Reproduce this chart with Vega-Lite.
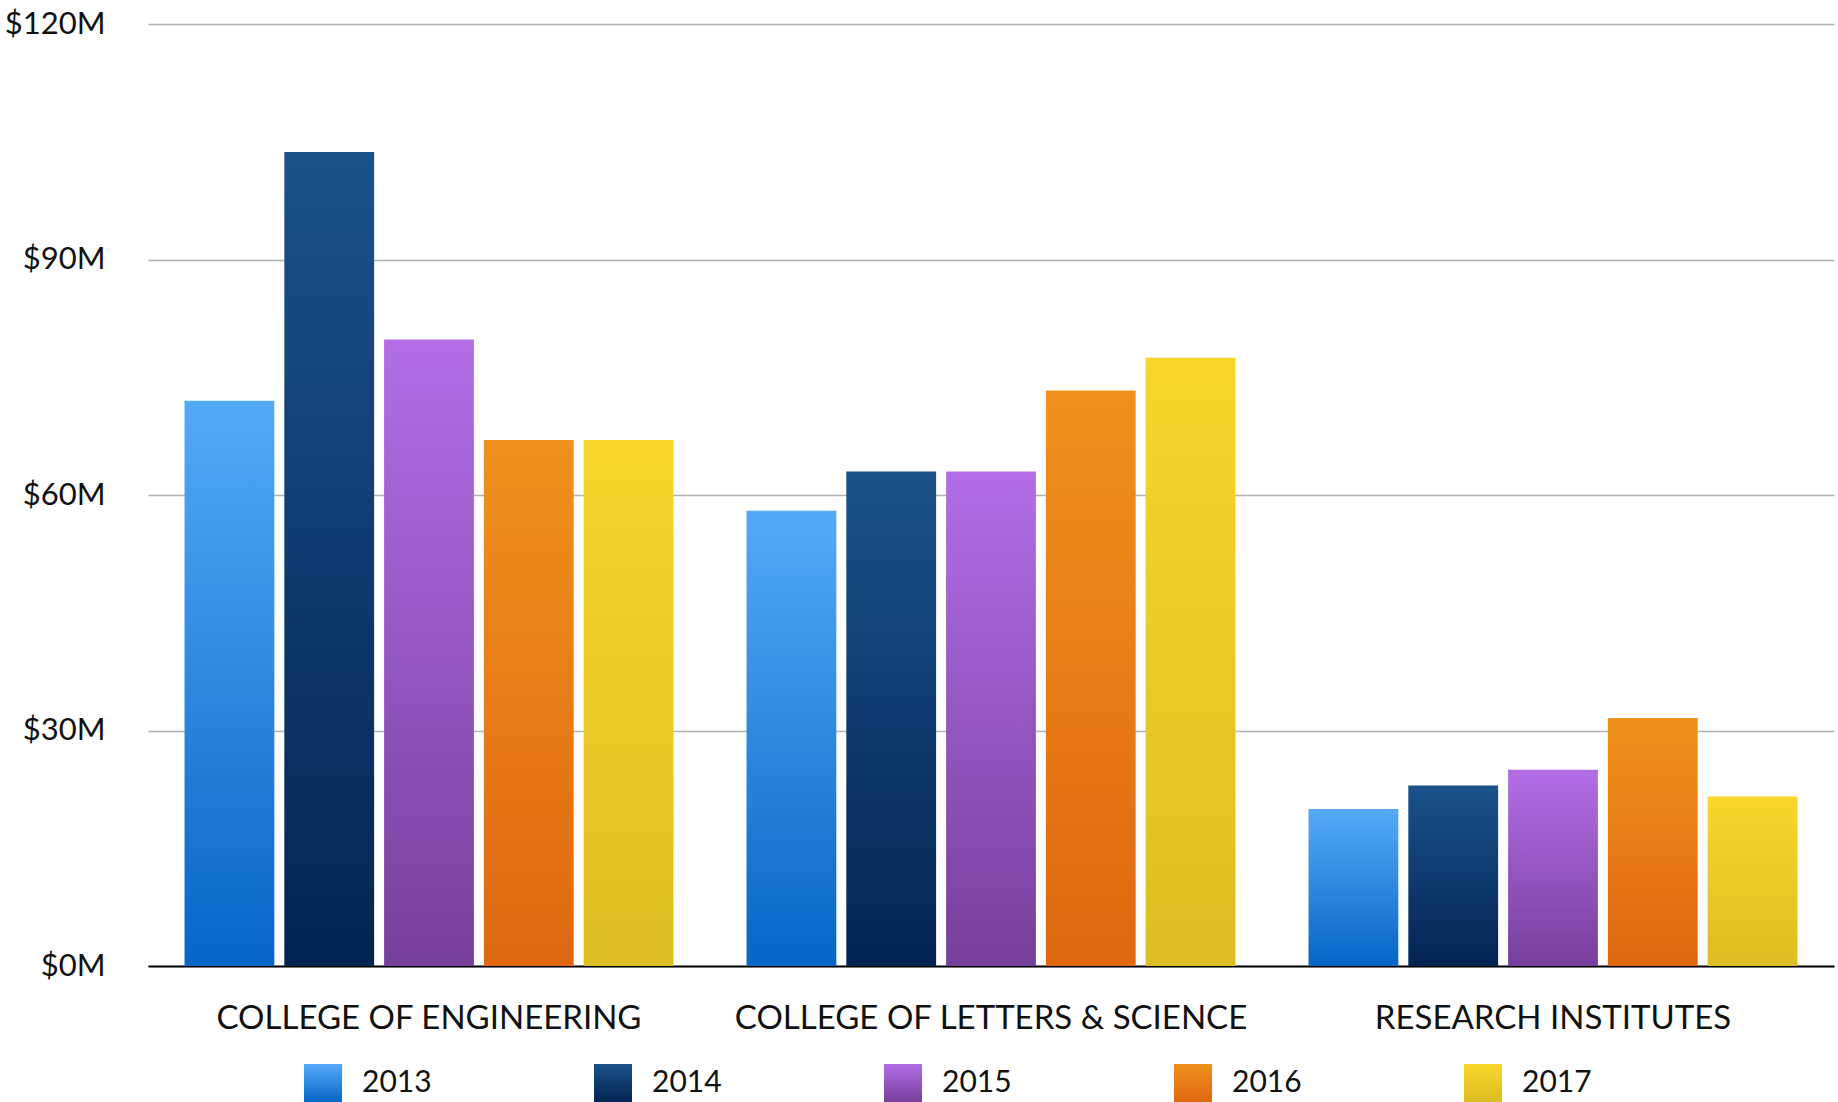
{
  "$schema": "https://vega.github.io/schema/vega-lite/v6.json",
  "width": 1686,
  "height": 942,
  "autosize": "none",
  "padding": {"left": 148, "top": 24, "right": 4, "bottom": 136},
  "background": "white",
  "data": {"values": [
    {"unit": "COLLEGE OF ENGINEERING", "year": "2013", "amount": 72},
    {"unit": "COLLEGE OF ENGINEERING", "year": "2014", "amount": 103.7},
    {"unit": "COLLEGE OF ENGINEERING", "year": "2015", "amount": 79.8},
    {"unit": "COLLEGE OF ENGINEERING", "year": "2016", "amount": 67},
    {"unit": "COLLEGE OF ENGINEERING", "year": "2017", "amount": 67},
    {"unit": "COLLEGE OF LETTERS & SCIENCE", "year": "2013", "amount": 58},
    {"unit": "COLLEGE OF LETTERS & SCIENCE", "year": "2014", "amount": 63},
    {"unit": "COLLEGE OF LETTERS & SCIENCE", "year": "2015", "amount": 63},
    {"unit": "COLLEGE OF LETTERS & SCIENCE", "year": "2016", "amount": 73.3},
    {"unit": "COLLEGE OF LETTERS & SCIENCE", "year": "2017", "amount": 77.5},
    {"unit": "RESEARCH INSTITUTES", "year": "2013", "amount": 20},
    {"unit": "RESEARCH INSTITUTES", "year": "2014", "amount": 23},
    {"unit": "RESEARCH INSTITUTES", "year": "2015", "amount": 25},
    {"unit": "RESEARCH INSTITUTES", "year": "2016", "amount": 31.6},
    {"unit": "RESEARCH INSTITUTES", "year": "2017", "amount": 21.6}
  ]},
  "mark": {
    "type": "bar",
    "strokeWidth": 0,
    "fill": {"expr": "(datum.year || datum.value) == '2013' ? {gradient:'linear',x1:0,y1:0,x2:0,y2:1,stops:[{offset:0,color:'#55aaf7'},{offset:1,color:'#0666c5'}]} : (datum.year || datum.value) == '2014' ? {gradient:'linear',x1:0,y1:0,x2:0,y2:1,stops:[{offset:0,color:'#1b528a'},{offset:1,color:'#032452'}]} : (datum.year || datum.value) == '2015' ? {gradient:'linear',x1:0,y1:0,x2:0,y2:1,stops:[{offset:0,color:'#b36ee6'},{offset:1,color:'#773f9c'}]} : (datum.year || datum.value) == '2016' ? {gradient:'linear',x1:0,y1:0,x2:0,y2:1,stops:[{offset:0,color:'#ef911c'},{offset:1,color:'#df6811'}]} : {gradient:'linear',x1:0,y1:0,x2:0,y2:1,stops:[{offset:0,color:'#f8d62b'},{offset:1,color:'#dbbe22'}]}"}
  },
  "encoding": {
    "x": {
      "field": "unit", "type": "nominal", "sort": null,
      "scale": {"paddingInner": 0.13, "paddingOuter": 0.065},
      "axis": {"title": null, "labelAngle": 0, "labelFontSize": 33, "labelFont": "Lato", "labelColor": "#111111", "labelPadding": 36, "ticks": false, "domainColor": "#000000", "domainWidth": 2, "labelLimit": 700}
    },
    "xOffset": {
      "field": "year", "type": "nominal",
      "scale": {"paddingInner": 0.1, "paddingOuter": 0}
    },
    "y": {
      "field": "amount", "type": "quantitative",
      "scale": {"domain": [0, 120], "nice": false},
      "axis": {"title": null, "values": [0, 30, 60, 90, 120], "labelExpr": "'$' + datum.value + 'M'", "labelFontSize": 31, "labelFont": "Lato", "labelColor": "#111111", "labelPadding": 43, "domain": false, "ticks": false, "gridColor": "#b3b3b3", "gridWidth": 1.6}
    },
    "stroke": {
      "field": "year", "type": "nominal",
      "scale": {"range": ["#2e88df", "#0e3b6e", "#9656c3", "#e77c17", "#eaca26"]},
      "legend": {
        "title": null, "orient": "none", "direction": "horizontal", "columns": 5,
        "legendX": 156, "legendY": 1040, "padding": 0,
        "symbolType": "square", "symbolSize": 1444, "symbolStrokeWidth": 0,
        "labelFontSize": 30, "labelFont": "Lato", "labelColor": "#111111", "labelOffset": 20,
        "columnPadding": 162,
        "encode": {"symbols": {"update": {"strokeWidth": {"value": 0}}}}
      }
    }
  },
  "config": {"view": {"stroke": null}}
}
